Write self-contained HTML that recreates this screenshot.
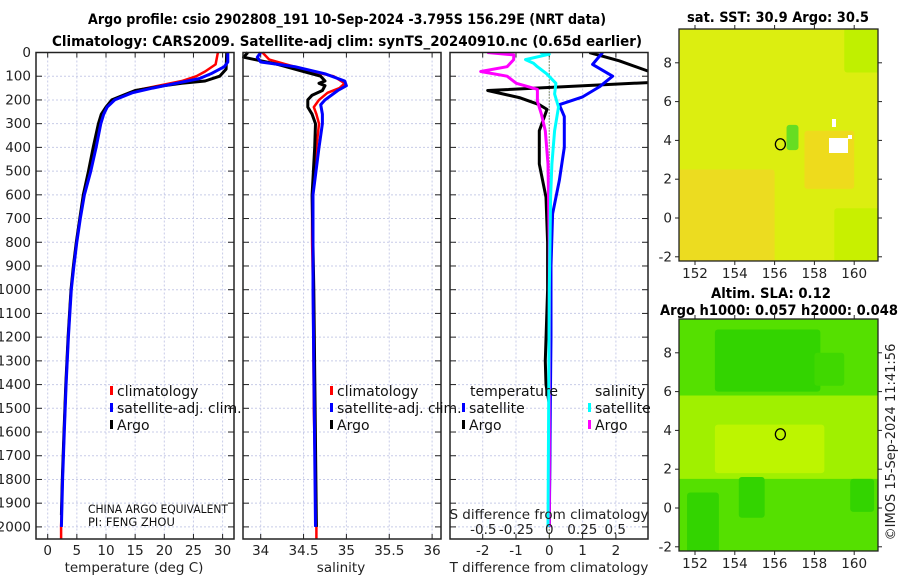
<!DOCTYPE html>
<html><head><meta charset="utf-8"><style>
html,body{margin:0;padding:0;background:#fff;}
svg{display:block;font-family:"DejaVu Sans","Liberation Sans",sans-serif;}
</style></head><body>
<svg id="fig" width="900" height="580" viewBox="0 0 900 580" xmlns="http://www.w3.org/2000/svg">
<g font-weight="bold" font-size="14" text-anchor="middle" fill="#000">
<text x="347" y="24" textLength="518" lengthAdjust="spacingAndGlyphs">Argo profile: csio 2902808_191 10-Sep-2024 -3.795S 156.29E (NRT data)</text>
<text x="347" y="46" textLength="590" lengthAdjust="spacingAndGlyphs">Climatology: CARS2009. Satellite-adj clim: synTS_20240910.nc (0.65d earlier)</text>
</g>
<g id="plots"></g>
<g font-weight="bold" font-size="14" text-anchor="middle"><text x="778" y="22" textLength="182" lengthAdjust="spacingAndGlyphs">sat. SST: 30.9 Argo: 30.5</text></g>
<g font-weight="bold" font-size="14" text-anchor="middle"><text x="771" y="298" textLength="120" lengthAdjust="spacingAndGlyphs">Altim. SLA: 0.12</text><text x="779" y="315" textLength="238" lengthAdjust="spacingAndGlyphs">Argo h1000: 0.057 h2000: 0.048</text></g>
<text font-size="13" transform="translate(895,442) rotate(-90)" text-anchor="middle" fill="#222">©IMOS 15-Sep-2024 11:41:56</text>
</svg>
<script>
// ---- data ----
const depthTicks=[0,100,200,300,400,500,600,700,800,900,1000,1100,1200,1300,1400,1500,1600,1700,1800,1900,2000];
const tempTicks=[0,5,10,15,20,25,30];
const salTicks=[34,34.5,35,35.5,36];
const tdiffTicks=[-2,-1,0,1,2];
const sdiffTicks=[-0.5,-0.25,0,0.25,0.5];
const tempClimDepth=[0,50,80,100,120,140,160,180,200,230,260,300,400,500,600,700,800,900,1000,1200,1400,1600,1800,2000,2050];
const tempClim=[29.2,28.8,27,25.5,23,19,15,13,11.5,10,9.4,8.9,8,7.2,6.2,5.5,4.9,4.4,4,3.5,3.1,2.8,2.5,2.3,2.3];
const tempSatDepth=[0,40,60,90,110,130,150,170,200,230,260,300,400,500,600,700,800,900,1000,1200,1400,1600,1800,2000];
const tempSat=[30.9,30.9,30.3,28,26,22,18,14.5,11.5,10.2,9.6,9.1,8.3,7.4,6.3,5.6,5.0,4.5,4.05,3.55,3.15,2.85,2.55,2.35];
const tempArgoDepth=[0,70,100,120,130,140,160,180,200,230,260,300,400,500,600,700,800,900,1000,1200,1400,1600,1800,1950];
const tempArgo=[30.7,30.6,29.5,27,23,20,15,13,11,10,9.2,8.7,7.8,7,6.1,5.5,4.9,4.4,4,3.5,3.1,2.8,2.5,2.35];
const salClimDepth=[0,30,50,80,100,130,150,170,200,230,260,300,400,600,800,1000,1500,2000,2050];
const salClim=[34.02,34.1,34.3,34.6,34.85,34.98,34.92,34.78,34.68,34.62,34.65,34.68,34.65,34.6,34.6,34.61,34.62,34.65,34.65];
const salSatDepth=[0,20,40,60,90,120,140,160,200,220,260,300,400,600,1000,2000];
const salSat=[34.0,33.96,34.0,34.4,34.75,34.98,35.0,34.9,34.75,34.7,34.72,34.72,34.68,34.61,34.61,34.64];
const salArgoDepth=[0,20,50,80,100,120,130,140,160,180,200,230,260,300,400,600,1000,2000];
const salArgo=[33.85,33.8,34.2,34.5,34.7,34.75,34.68,34.75,34.72,34.6,34.55,34.55,34.6,34.64,34.63,34.6,34.62,34.65];
const tdSatDepth=[0,50,100,145,187,220,270,400,540,680,900,1200,1500,2000];
const tdSat=[1.6,1.3,1.9,1.5,1.0,0.3,0.45,0.45,0.3,0.1,0.05,0.05,0.03,0.0];
const tdArgoDepth=[0,35,80,110,125,160,190,220,240,330,470,610,800,1000,1300,1400,1500,2000];
const tdArgo=[1.2,2.1,3,3.2,3.2,-1.85,-0.9,-0.3,-0.07,-0.3,-0.3,-0.1,-0.05,-0.05,-0.12,-0.1,0.02,0.0];
const sdArgoDepth=[0,10,30,60,80,100,130,155,205,260,330,470,800,2000];
const sdArgo=[-0.47,-0.27,-0.27,-0.32,-0.52,-0.32,-0.25,-0.09,-0.09,-0.06,-0.03,-0.01,0.0,0.0];
const sdSatDepth=[0,7,30,45,60,90,130,175,230,330,470,610,1000,2000];
const sdSat=[-0.07,0.0,-0.18,-0.12,-0.09,-0.02,0.05,0.04,0.07,0.04,0.02,0.01,0.0,-0.01];

const NS='http://www.w3.org/2000/svg';
const root=document.getElementById('plots');
function mk(tag,attrs,parent){const e=document.createElementNS(NS,tag);for(const k in attrs)e.setAttribute(k,attrs[k]);(parent||root).appendChild(e);return e;}
const Y0=52.5, PXD=0.2372, YB=539;
function yD(d){return Y0+d*PXD;}
function makeX(v0,px0,ppu){return v=>px0+(v-v0)*ppu;}

const panels=[
 {name:'temperature-panel',x0:36,x1:234,sx:makeX(0,47.7,5.83),ticks:tempTicks,label:'temperature (deg C)'},
 {name:'salinity-panel',x0:243,x1:441,sx:makeX(34,260.7,85.7),ticks:salTicks,label:'salinity'},
 {name:'difference-panel',x0:450,x1:648,sx:makeX(0,549.3,33.3),ticks:tdiffTicks,label:'T difference from climatology'}
];
const sdX=makeX(0,549.3,132);
panels.forEach((p,i)=>{
 const g=mk('g',{});
 
 
 depthTicks.forEach(d=>{const l=mk('line',{x1:p.x0,x2:p.x1,y1:yD(d),y2:yD(d),stroke:'#c8cce8','stroke-width':1,'stroke-dasharray':'2,2'},g);
  });
 p.ticks.forEach(t=>{const x=p.sx(t);const l=mk('line',{x1:x,x2:x,y1:Y0,y2:YB,stroke:'#c8cce8','stroke-width':1,'stroke-dasharray':'2,2'},g);
  
  const tl=mk('text',{x:x,y:555,'text-anchor':'middle','font-size':13.5,fill:'#222'},g);tl.textContent=t;
  
  mk('line',{x1:x,x2:x,y1:YB,y2:YB-5,stroke:'#222'},g);mk('line',{x1:x,x2:x,y1:Y0,y2:Y0+5,stroke:'#222'},g);});
 depthTicks.forEach(d=>{mk('line',{x1:p.x0,x2:p.x0+6,y1:yD(d),y2:yD(d),stroke:'#222'},g);mk('line',{x1:p.x1,x2:p.x1-6,y1:yD(d),y2:yD(d),stroke:'#222'},g);
  if(i===0){const tl=mk('text',{x:31,y:yD(d)+4.5,'text-anchor':'end','font-size':13.5,fill:'#222'},g);tl.textContent=d;
   }});
 const al=mk('text',{x:(p.x0+p.x1)/2+(i==2?0:-1),y:572,'text-anchor':'middle','font-size':13.5,fill:'#222'},g);al.textContent=p.label;
 
 p.g=g;
});
function line(g,xs,ds,sx,color,w,name){
 const pts=xs.map((v,k)=>sx(v).toFixed(1)+','+yD(ds[k]).toFixed(1)).join(' ');
 const l=mk('polyline',{points:pts,fill:'none',stroke:color,'stroke-width':w,'stroke-linejoin':'round'},g);
 }
const defs=mk('defs',{});
const cp=mk('clipPath',{id:'c3'},defs);mk('rect',{x:450,y:52,width:198,height:487},cp);
const cm1=mk('clipPath',{id:'cm1'},defs);mk('rect',{x:679,y:29,width:199,height:232},cm1);
const cm2=mk('clipPath',{id:'cm2'},defs);mk('rect',{x:679,y:319,width:199,height:232},cm2);
const P=panels;
line(P[0].g,tempClim,tempClimDepth,P[0].sx,'#f00',2.5,'temperature-climatology-line');
line(P[0].g,tempArgo,tempArgoDepth,P[0].sx,'#000',3,'temperature-argo-line');
line(P[0].g,tempSat,tempSatDepth,P[0].sx,'#00f',3,'temperature-satellite-line');
line(P[1].g,salClim,salClimDepth,P[1].sx,'#f00',2.5,'salinity-climatology-line');
line(P[1].g,salArgo,salArgoDepth,P[1].sx,'#000',3,'salinity-argo-line');
line(P[1].g,salSat,salSatDepth,P[1].sx,'#00f',3,'salinity-satellite-line');
const g3=mk('g',{'clip-path':'url(#c3)'},P[2].g);


const zl=mk('line',{x1:549.3,x2:549.3,y1:Y0,y2:YB,stroke:'#556b2f','stroke-width':1.3,'stroke-dasharray':'1,2'},g3);


line(g3,tdArgo,tdArgoDepth,P[2].sx,'#000',3,'tdiff-argo-line');
line(g3,tdSat,tdSatDepth,P[2].sx,'#00f',3,'tdiff-satellite-line');
line(g3,sdArgo,sdArgoDepth,sdX,'#f0f',3,'sdiff-argo-line');
line(g3,sdSat,sdSatDepth,sdX,'#0ff',3,'sdiff-satellite-line');
panels.forEach(p=>{const f=mk('rect',{x:p.x0,y:Y0,width:p.x1-p.x0,height:YB-Y0,fill:'none',stroke:'#222','stroke-width':1.5},p.g);
 });
const sl=mk('text',{x:549,y:519,'text-anchor':'middle','font-size':13.5,fill:'#222'},P[2].g);sl.textContent='S difference from climatology';

sdiffTicks.forEach(t=>{const tl=mk('text',{x:sdX(t),y:534,'text-anchor':'middle','font-size':13.5,fill:'#222'},P[2].g);tl.textContent=t;
 });
function legend(g,x,items,name){items.forEach(([c,txt,y])=>{
 const e=mk('g',{},g);
 if(c)mk('rect',{x:x,y:y-10,width:3,height:9,fill:c},e);
 const t=mk('text',{x:x+(c?7:0),y:y,'font-size':14,fill:'#111'},e);t.textContent=txt;});}
legend(P[0].g,110,[['#f00','climatology',396],['#00f','satellite-adj. clim.',413],['#000','Argo',430]],'legend-entry');
legend(P[1].g,330,[['#f00','climatology',396],['#00f','satellite-adj. clim.',413],['#000','Argo',430]],'legend-entry');
legend(P[2].g,470,[[null,'temperature',396]],'legend-header');
legend(P[2].g,595,[[null,'salinity',396]],'legend-header');
legend(P[2].g,462,[['#00f','satellite',413],['#000','Argo',430]],'legend-entry');
legend(P[2].g,588,[['#0ff','satellite',413],['#f0f','Argo',430]],'legend-entry');
const pi=mk('g',{'font-size':11.5,fill:'#111'},P[0].g);
mk('text',{x:88,y:513,textLength:140,lengthAdjust:'spacingAndGlyphs'},pi).textContent='CHINA ARGO EQUIVALENT';mk('text',{x:88,y:526},pi).textContent='PI: FENG ZHOU';

// ---- maps ----
const lonTicks=[152,154,156,158,160];
const latTicks=[-2,0,2,4,6,8];
function map(top,bot,y0,name,clip,base,patches,whites){
 const g=mk('g',{});
 const X=lon=>695+(lon-152)*19.9, Y=lat=>y0-lat*19.4;
 const inner=mk('g',{'clip-path':'url(#'+clip+')'},g);
 mk('rect',{x:679,y:top,width:199,height:bot-top,fill:base},inner);
 patches.forEach(([l0,l1,a0,a1,c])=>mk('rect',{x:X(l0),y:Y(a1),width:X(l1)-X(l0),height:Y(a0)-Y(a1),fill:c,rx:3},inner));
 whites.forEach(([x,y,w,h])=>mk('rect',{x,y,width:w,height:h,fill:'#fff'},inner));
 const c=mk('ellipse',{cx:X(156.29),cy:Y(3.8),rx:5,ry:5.5,fill:'none',stroke:'#000','stroke-width':1.3},g);
 
 mk('rect',{x:679,y:top,width:199,height:bot-top,fill:'none',stroke:'#222','stroke-width':1.3},g);
 lonTicks.forEach(l=>{mk('line',{x1:X(l),x2:X(l),y1:bot,y2:bot+4,stroke:'#222'},g);mk('line',{x1:X(l),x2:X(l),y1:top,y2:top-4,stroke:'#222'},g);
  const t=mk('text',{x:X(l),y:bot+17,'text-anchor':'middle','font-size':13.5,fill:'#222'},g);t.textContent=l;
  });
 latTicks.forEach(a=>{mk('line',{x1:675,x2:679,y1:Y(a),y2:Y(a),stroke:'#222'},g);mk('line',{x1:878,x2:882,y1:Y(a),y2:Y(a),stroke:'#222'},g);
  const t=mk('text',{x:672,y:Y(a)+4.5,'text-anchor':'end','font-size':13.5,fill:'#222'},g);t.textContent=a;
  });
}
map(29,261,218,'sst-map','cm1','#dcee10',[[151,156,-2.3,2.5,'#ecdc20'],[157.5,160,1.5,4.5,'#eedb1c'],[159,161.5,-2.3,0.5,'#c8f000'],[159.5,161.5,7.5,9.8,'#c0f000'],[156.6,157.2,3.5,4.8,'#66dd22']],[[829,138,19,15],[832,119,4,8],[848,135,4,4]]);
map(319,551,508,'sla-map','cm2','#55e000',[[151,161.5,1.5,5.8,'#a0f000'],[153,158.5,1.8,4.3,'#bdf500'],[153,158.3,6,9.2,'#33d400'],[158,159.5,6.3,8,'#40d800'],[151.6,153.2,-2.3,0.8,'#33d400'],[154.2,155.5,-0.5,1.6,'#33d400'],[159.8,161,-0.2,1.5,'#33d400']],[]);
</script>
</body></html>
